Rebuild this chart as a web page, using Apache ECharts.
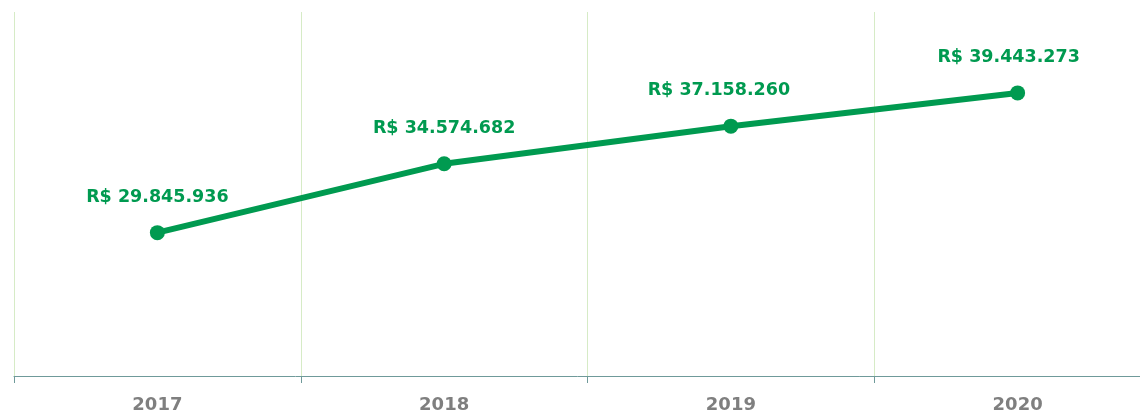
<!DOCTYPE html>
<html>
<head>
<meta charset="utf-8">
<script src="https://cdn.jsdelivr.net/npm/echarts@6/dist/echarts.min.js"></script>
<style>
html,body{margin:0;padding:0;background:#fff;}
#chart{width:1140px;height:416px;}
</style>
</head>
<body>
<div id="chart"></div>
<script>
var categories = ['2017', '2018', '2019', '2020'];
var values = [29845936, 34574682, 37158260, 39443273];

function fmt(v) {
  return 'R$ ' + String(v).replace(/\B(?=(\d{3})+(?!\d))/g, '.');
}

var labelShift = { 2: [-12, 0], 3: [-9, 0] };
var seriesData = values.map(function (v, i) {
  var item = { value: v };
  if (labelShift[i]) item.label = { offset: labelShift[i] };
  return item;
});

var chart = echarts.init(document.getElementById('chart'));
chart.setOption({
  animation: false,
  grid: { left: 14, right: -21, top: 12, bottom: 40, containLabel: false, outerBoundsMode: 'none' },
  xAxis: {
    type: 'category',
    data: categories,
    boundaryGap: true,
    axisLine: { lineStyle: { color: '#6f9a9a', width: 1 } },
    axisTick: { show: true, length: 7, lineStyle: { color: '#6f9a9a' } },
    axisLabel: { color: '#7f7f7f', fontFamily: 'DejaVu Sans', fontWeight: 'bold', fontSize: 18, margin: 20 },
    splitLine: { show: true, lineStyle: { color: '#d6ebc6', width: 1 } }
  },
  yAxis: {
    type: 'value',
    min: 20000000,
    max: 45000000,
    show: false,
    splitLine: { show: false }
  },
  series: [{
    type: 'line',
    data: seriesData,
    symbol: 'circle',
    symbolSize: 15,
    lineStyle: { color: '#009a50', width: 6 },
    itemStyle: { color: '#009a50' },
    label: {
      show: true,
      position: 'top',
      distance: 19,
      color: '#009a50',
      fontFamily: 'DejaVu Sans',
      fontWeight: 'bold',
      fontSize: 17.5,
      formatter: function (p) { return fmt(p.value); }
    }
  }]
});
</script>
</body>
</html>
